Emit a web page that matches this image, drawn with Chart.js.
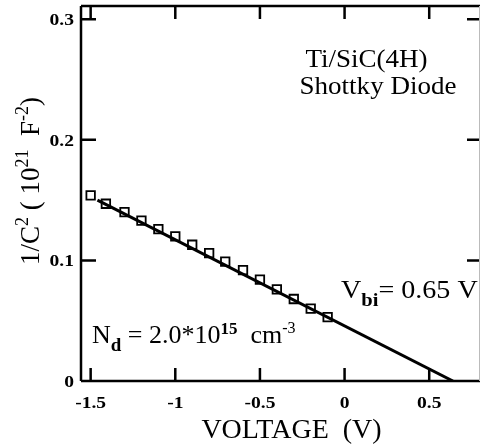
<!DOCTYPE html>
<html>
<head>
<meta charset="utf-8">
<script src="https://cdn.jsdelivr.net/npm/chart.js@4"></script>
<style>
  html, body { margin: 0; padding: 0; background: #fff; }
  canvas { display: block; }
</style>
</head>
<body>
<canvas id="myChart" width="481" height="448"></canvas>
<script>
// measured points: 1/C^2 vs bias voltage
const voltage = [-1.5, -1.41, -1.3, -1.2, -1.1, -1.0, -0.9, -0.8, -0.705, -0.6, -0.5, -0.4, -0.3, -0.2, -0.1];
const invC2 = [0.154, 0.147, 0.140, 0.133, 0.126, 0.120, 0.113, 0.106, 0.099, 0.092, 0.084, 0.076, 0.068, 0.060, 0.053];

// straight line fit, crosses zero at Vbi
const fitV = [-1.46, 0.64];
const fitY = [0.150, 0];

const xTicks = [-1.5, -1, -0.5, 0, 0.5];
const xTickLabels = ['-1.5', '-1', '-0.5', '0', '0.5'];
const yTicks = [0, 0.1, 0.2, 0.3];
const yTickLabels = ['0', '0.1', '0.2', '0.3'];

const SERIF = '"Liberation Serif", "Times New Roman", serif';

// draws a row of text pieces (normal, sub, sup) one after another,
// sx stretches it sideways like the scanned figure
function drawRuns(ctx, x, y, runs, align, sx) {
    sx = sx || 1;
    let total = 0;
    runs.forEach(r => { ctx.font = r.font; r.w = ctx.measureText(r.t).width; total += r.w; });
    ctx.save();
    ctx.translate(x, y);
    ctx.scale(sx, 1);
    let cx = 0;
    if (align === 'center') cx = -total / 2;
    if (align === 'right') cx = -total;
    ctx.textAlign = 'left';
    ctx.textBaseline = 'alphabetic';
    runs.forEach(r => {
        ctx.font = r.font;
        ctx.fillText(r.t, cx, r.dy || 0);
        cx += r.w;
    });
    ctx.restore();
}

const f = (s, b) => (b ? 'bold ' : '') + s + 'px ' + SERIF;

const framePlugin = {
    id: 'frame',
    afterDraw(chart) {
        const ctx = chart.ctx;
        const a = chart.chartArea;
        const xs = chart.scales.x, ys = chart.scales.y;
        ctx.save();
        ctx.strokeStyle = '#000';
        ctx.lineWidth = 2.5;
        ctx.beginPath();
        ctx.moveTo(a.left, a.top); ctx.lineTo(a.right, a.top);
        ctx.moveTo(a.left, a.top); ctx.lineTo(a.left, a.bottom);
        ctx.moveTo(a.left, a.bottom); ctx.lineTo(a.right, a.bottom);
        // inward ticks
        xTicks.forEach(v => {
            const px = xs.getPixelForValue(v);
            ctx.moveTo(px, a.bottom); ctx.lineTo(px, a.bottom - 13);
            ctx.moveTo(px, a.top); ctx.lineTo(px, a.top + 13);
        });
        yTicks.forEach(v => {
            if (v === 0) return;
            const py = ys.getPixelForValue(v);
            ctx.moveTo(a.left, py); ctx.lineTo(a.left + 15, py);
            ctx.moveTo(a.right, py); ctx.lineTo(a.right - 13, py);
        });
        ctx.stroke();
        // right border is faint in the scan
        ctx.strokeStyle = '#bbb';
        ctx.lineWidth = 1;
        ctx.beginPath();
        ctx.moveTo(a.right - 0.5, a.top); ctx.lineTo(a.right - 0.5, a.bottom);
        ctx.stroke();

        ctx.fillStyle = '#000';

        // tick labels
        xTicks.forEach((v, i) => {
            drawRuns(ctx, xs.getPixelForValue(v), 408, [{ t: xTickLabels[i], font: f(17, true) }], 'center', 1.15);
        });
        yTicks.forEach((v, i) => {
            drawRuns(ctx, 74, ys.getPixelForValue(v) + 6, [{ t: yTickLabels[i], font: f(17, true) }], 'right', 1.15);
        });

        // x title
        drawRuns(ctx, 291.5, 438, [{ t: 'VOLTAGE  (V)', font: f(28) }], 'center');

        // y title, rotated
        ctx.save();
        ctx.translate(39, 181);
        ctx.rotate(-Math.PI / 2);
        drawRuns(ctx, 0, 0, [
            { t: '1/C', font: f(27) },
            { t: '2', font: f(18), dy: -11 },
            { t: ' ( 10', font: f(27) },
            { t: '21', font: f(18), dy: -11 },
            { t: '  F', font: f(27) },
            { t: '-2', font: f(18), dy: -11 },
            { t: ')', font: f(27) }
        ], 'center');
        ctx.restore();

        // labels inside the plot
        drawRuns(ctx, 366.5, 67, [{ t: 'Ti/SiC(4H)', font: f(26) }], 'center', 1.04);
        drawRuns(ctx, 378, 94, [{ t: 'Shottky Diode', font: f(26) }], 'center', 1.04);

        drawRuns(ctx, 341, 298, [
            { t: 'V', font: f(26) },
            { t: 'bi', font: f(19, true), dy: 8 },
            { t: '= 0.65 V', font: f(26) }
        ], 'left', 1.08);

        drawRuns(ctx, 92, 343, [
            { t: 'N', font: f(26) },
            { t: 'd', font: f(19, true), dy: 8 },
            { t: ' = 2.0*10', font: f(26) },
            { t: '15', font: f(17, true), dy: -9 },
            { t: '  cm', font: f(26) },
            { t: '-3', font: f(16), dy: -10 }
        ], 'left', 1.0);
        ctx.restore();
    }
};

function noPad(s) {
    s.paddingLeft = 0; s.paddingRight = 0; s.paddingTop = 0; s.paddingBottom = 0;
}

const ctx = document.getElementById('myChart').getContext('2d');
const chart = new Chart(ctx, {
    type: 'scatter',
    data: {
        datasets: [{
            label: 'fit',
            data: fitV.map((v, i) => ({ x: v, y: fitY[i] })),
            showLine: true,
            borderColor: '#000',
            borderWidth: 3,
            pointRadius: 0,
            order: 1
        }, {
            label: '1/C2',
            data: voltage.map((v, i) => ({ x: v, y: invC2[i] })),
            pointStyle: 'rect',
            pointRadius: 6,
            pointBorderWidth: 1.8,
            pointBorderColor: '#000',
            pointBackgroundColor: 'rgba(0,0,0,0)',
            order: 2
        }]
    },
    options: {
        responsive: false,
        animation: false,
        devicePixelRatio: 1,
        layout: { autoPadding: false, padding: { top: 6, right: 1, left: 0, bottom: 0 } },
        plugins: { legend: { display: false }, tooltip: { enabled: false } },
        scales: {
            x: {
                type: 'linear',
                min: -1.557,
                max: 0.80,
                afterBuildTicks: s => { s.ticks = xTicks.map(v => ({ value: v })); },
                afterFit: s => { s.height = 67; noPad(s); },
                grid: { display: false, drawTicks: false },
                border: { display: false },
                ticks: { display: false }
            },
            y: {
                type: 'linear',
                min: 0,
                max: 0.311,
                afterBuildTicks: s => { s.ticks = yTicks.map(v => ({ value: v })); },
                afterFit: s => { s.width = 81; noPad(s); },
                grid: { display: false, drawTicks: false },
                border: { display: false },
                ticks: { display: false }
            }
        }
    },
    plugins: [framePlugin]
});
</script>
</body>
</html>
